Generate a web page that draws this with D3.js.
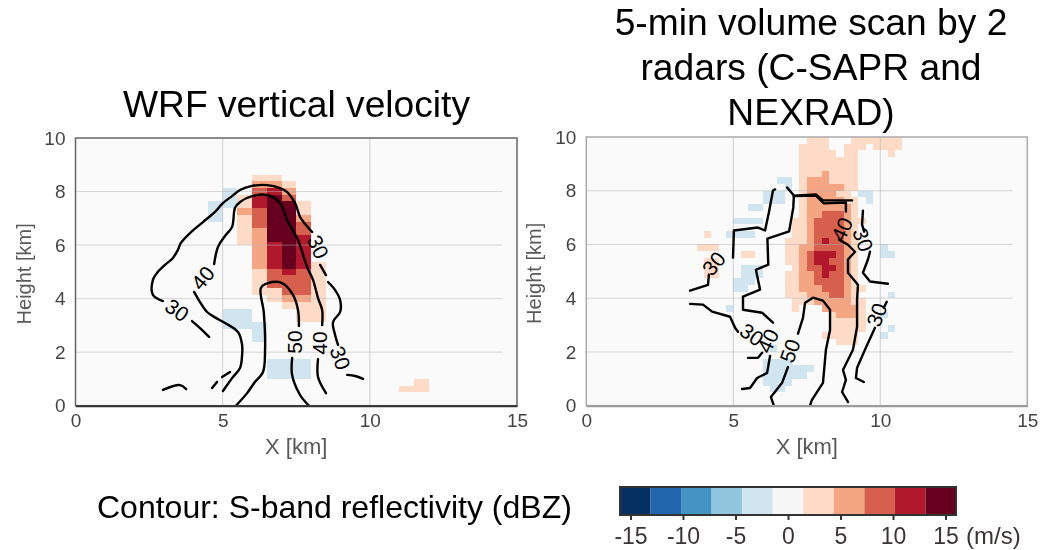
<!DOCTYPE html>
<html>
<head>
<meta charset="utf-8">
<script src="https://cdn.jsdelivr.net/npm/d3@7"></script>
<style>
    html, body { margin: 0; padding: 0; background: #fff; }
    svg { display: block; filter: blur(0.35px); }
    text { font-family: "Liberation Sans", Arial, sans-serif; }
</style>
</head>
<body>
<div id="chart"></div>
<script>
// colour bar
var barColors = ["#053061", "#2166ac", "#4393c3", "#92c5de", "#d1e5f0", "#f7f7f7", "#fddbc7", "#f4a582", "#d6604d", "#b2182b", "#67001f"];
var barTicks = [-15, -10, -5, 0, 5, 10, 15];

var xTicks = [0, 5, 10, 15];
var yTicks = [0, 2, 4, 6, 8, 10];

// vertical velocity cells [x0, x1, y0, y1, m/s]
var wrfCells = [
    [4.5, 5, 6.88, 7.63, -3], [5, 5.5, 7.38, 8.13, -3],
    [5, 6, 2.88, 3.62, -3], [6, 6.5, 2.37, 3.12, -3], [6.5, 8, 1.0, 1.75, -3],
    [11, 12, 0.5, 0.75, 3], [11.5, 12, 0.75, 1.0, 3],
    [5.5, 6, 7.38, 7.88, 3], [5.5, 6, 7.13, 7.38, 6], [5.5, 6, 6.0, 7.13, 3],
    [6, 6.5, 8.38, 8.63, 3], [6, 6.5, 8.13, 8.38, 6], [6, 6.5, 7.88, 8.13, 9], [6, 6.5, 7.38, 7.88, 12],
    [6, 6.5, 6.62, 7.38, 9], [6, 6.5, 5.12, 6.62, 6], [6, 6.5, 4.12, 5.12, 3],
    [6.5, 7, 8.38, 8.63, 3], [6.5, 7, 8.13, 8.38, 6], [6.5, 7, 7.88, 8.13, 12], [6.5, 7, 6.12, 7.88, 15],
    [6.5, 7, 5.12, 6.12, 12], [6.5, 7, 4.38, 5.12, 9], [6.5, 7, 3.87, 4.38, 3],
    [7, 7.5, 8.13, 8.38, 3], [7, 7.5, 7.88, 8.13, 6], [7, 7.5, 7.63, 7.88, 9], [7, 7.5, 5.12, 7.63, 15],
    [7, 7.5, 4.88, 5.12, 12], [7, 7.5, 4.12, 4.88, 9], [7, 7.5, 3.87, 4.12, 6], [7, 7.5, 3.62, 3.87, 3],
    [7.5, 8, 7.13, 7.63, 3], [7.5, 8, 6.88, 7.13, 6], [7.5, 8, 6.37, 6.88, 9], [7.5, 8, 5.12, 6.37, 12],
    [7.5, 8, 4.12, 5.12, 9], [7.5, 8, 3.87, 4.12, 6], [7.5, 8, 3.12, 3.87, 3],
    [8, 8.5, 3.12, 5.37, 3]
];

var radarCells = [
    // downdraft patches
    [6.5, 7, 8.25, 8.5, -3], [6.75, 7, 8, 8.25, -3], [6, 6.75, 7.5, 8, -3], [5.5, 6, 7.25, 7.5, -3],
    [5, 6, 6.75, 7, -3], [4.75, 5.75, 6.25, 6.5, -3],
    [9.25, 9.75, 7.75, 8, -3], [9.5, 9.75, 7.5, 7.75, -3],
    [10, 10.25, 5.75, 6, -3], [10, 10.5, 5.5, 5.75, -3],
    [5.25, 6, 4.75, 5.25, -3], [5, 5.75, 4.5, 4.75, -3], [5, 5.5, 4.25, 4.5, -3], [4.75, 5, 3.5, 3.75, -3],
    [10.25, 10.5, 4, 4.25, -3], [10, 10.25, 3.25, 3.5, -3], [10.25, 10.5, 2.75, 3, -3], [10, 10.25, 2.5, 2.75, -3],
    [6.25, 6.5, 2, 2.25, -3], [6, 7, 1.5, 1.75, -3], [6, 7.75, 1.25, 1.5, -3], [6, 7.5, 1, 1.25, -3],
    [6, 7, 0.75, 1, -3], [6.25, 6.75, 0.5, 0.75, -3],
    // weak updraft
    [4, 4.25, 6.25, 6.5, 3], [3.75, 4.5, 5.75, 6, 3], [5.25, 5.75, 5.5, 5.75, 3], [4, 4.5, 4.75, 5.5, 3],
    [7.5, 8.25, 9.75, 10, 3], [9, 10.75, 9.75, 10, 3],
    [7.25, 8.25, 9.5, 9.75, 3], [8.75, 9.5, 9.5, 9.75, 3], [9.75, 10.75, 9.5, 9.75, 3],
    [7.25, 8.5, 9.25, 9.5, 3], [8.75, 9.25, 9.25, 9.5, 3], [10.25, 10.5, 9.25, 9.5, 3],
    [7.25, 9.25, 8, 9.25, 3], [7.25, 9, 7.75, 8, 3], [7.25, 9.25, 7, 7.75, 3],
    [7, 9.25, 6.25, 7, 3], [9.25, 9.5, 6.75, 7, 3], [6.75, 9.25, 5.25, 6.25, 3], [7, 9.25, 5, 5.25, 3],
    [6.75, 9.25, 4.5, 5, 3], [6.75, 9.5, 4.25, 4.5, 3], [6.75, 9.25, 4, 4.25, 3],
    [7, 8, 3.75, 4, 3], [8, 9.5, 3.5, 4, 3], [7, 7.25, 3.5, 3.75, 3],
    [8.25, 9.5, 2.75, 3.5, 3], [8, 9.25, 2.5, 2.75, 3], [8.5, 9.25, 2.25, 2.5, 3],
    // moderate
    [8, 8.25, 8.5, 8.75, 6], [7.5, 8.25, 8.25, 8.5, 6], [7.5, 8.75, 8, 8.25, 6], [7.5, 8.5, 7.75, 8, 6],
    [7.5, 8.75, 7.5, 7.75, 6], [7.5, 9, 6, 7.5, 6], [7.25, 9, 4.25, 6, 6], [7.5, 9, 4, 4.25, 6],
    [7.75, 9, 3.75, 4, 6], [8, 9.25, 3.5, 3.75, 6], [8.5, 9.25, 3.25, 3.5, 6],
    // strong
    [8, 8.75, 7, 7.25, 9], [7.75, 8.75, 5.75, 7, 9], [7.5, 8.75, 5, 5.75, 9], [7.75, 8.75, 4.5, 5, 9],
    [8, 8.75, 4.25, 4.5, 9], [8.25, 8.75, 4, 4.25, 9],
    // core
    [8, 8.25, 6, 6.25, 12], [7.75, 8.5, 5.5, 5.75, 12], [7.75, 8.25, 5.25, 5.5, 12], [8, 8.5, 5, 5.25, 12], [8, 8.25, 4.75, 5, 12]
];

// S-band reflectivity contours, each a broken line of [x, y] in km
var wrfContours = [
    [[2.97, 3.91], [2.63, 4.14], [2.63, 4.70], [2.77, 4.96], [3.04, 5.26], [3.31, 5.52], [3.48, 5.82], [3.58, 6.08], [3.89, 6.45], [4.33, 6.86], [4.74, 7.24], [5.01, 7.57], [5.32, 7.83], [5.59, 8.06], [6.00, 8.21], [6.51, 8.24], [6.95, 8.13], [7.19, 7.98], [7.46, 7.57], [7.63, 7.05], [7.80, 6.79], [8.04, 6.49]],
    [[8.31, 5.26], [8.51, 4.88]],
    [[8.58, 4.62], [8.82, 4.32], [8.99, 3.95], [8.99, 3.50], [8.75, 3.13], [8.82, 2.64], [8.92, 2.27]],
    [[9.23, 1.15], [9.50, 1.11], [9.77, 1.00]],
    [[3.96, 3.16], [4.23, 2.90], [4.54, 2.57]],
    [[2.97, 0.59], [3.55, 0.77], [3.76, 0.62]],
    [[4.64, 0.66], [4.81, 0.89]],
    [[4.98, 1.07], [5.25, 1.26]],
    [[4.71, 5.29], [4.84, 5.93], [5.08, 6.34], [5.32, 6.68], [5.42, 7.39], [5.59, 7.61], [6.00, 7.83], [6.51, 7.87], [6.95, 7.57], [7.19, 6.94], [7.56, 6.19], [7.87, 5.18], [8.07, 4.70], [8.24, 4.02], [8.38, 3.57], [8.38, 3.01]],
    [[8.24, 1.74], [8.24, 1.07], [8.51, 0.47]],
    [[4.03, 4.25], [4.23, 3.87], [4.47, 3.50], [4.77, 3.28], [5.08, 3.09], [5.52, 2.75], [5.66, 2.27], [5.66, 1.89], [5.59, 1.41], [5.32, 1.03], [5.01, 0.55]],
    [[5.45, 0], [5.83, 0.47], [6.07, 0.85], [6.37, 1.26], [6.44, 2.08], [6.40, 3.46], [6.30, 4.40], [6.54, 4.58], [7.02, 4.58], [7.39, 4.14], [7.56, 3.57], [7.59, 2.98]],
    [[7.36, 1.78], [7.36, 1.15], [7.63, 0.40], [7.93, 0]]
];

var radarContours = [
    [[4.99, 5.51], [5.02, 6.52], [5.84, 6.63], [6.08, 6.52], [6.21, 7.19], [6.35, 8.01], [6.42, 8.05]],
    [[6.83, 8.12], [7.06, 7.82], [7.04, 7.37], [6.96, 6.87], [6.90, 6.49], [6.16, 6.22], [6.19, 5.25], [5.77, 5.06], [5.85, 4.63], [5.91, 4.32], [5.33, 4.06], [5.33, 3.57], [5.98, 3.46], [6.35, 3.09]],
    [[7.06, 7.82], [7.81, 7.86], [8.05, 7.64], [9.04, 7.64]],
    [[7.06, 7.80], [7.81, 7.82], [8.08, 7.53], [8.83, 7.56], [8.83, 7.23]],
    [[8.60, 6.18], [8.90, 5.99], [9.14, 5.73], [8.90, 5.44], [8.90, 4.95], [9.24, 4.50], [9.21, 3.94], [9.21, 2.94], [9.07, 2.08], [8.73, 1.33], [8.83, 0.96], [8.70, 0.51], [8.90, 0.14]],
    [[6.25, 1.85], [6.15, 1.22], [5.81, 1.03], [5.57, 0.66], [5.30, 0.62]],
    [[7.20, 2.68], [7.37, 3.27], [7.44, 3.83], [7.71, 4.02], [8.05, 3.91], [8.29, 3.57], [8.29, 2.82], [8.15, 2.08], [8.05, 0.85], [7.67, 0.21], [7.61, 0]],
    [[6.86, 1.44], [6.66, 0.85], [6.28, 0.32], [6.38, 0]],
    [[4.17, 4.88], [4.14, 4.50], [3.53, 4.28]],
    [[3.53, 3.79], [3.97, 3.76], [4.28, 3.50], [4.89, 3.31], [5.06, 2.90], [5.16, 2.75]],
    [[5.50, 1.78], [5.84, 1.78], [5.98, 1.97]],
    [[9.41, 7.26], [9.38, 6.74], [9.45, 6.48]],
    [[9.65, 5.73], [9.58, 5.44], [9.41, 4.95], [9.65, 4.62], [10.26, 4.54]],
    [[10.22, 3.87], [10.12, 3.65]],
    [[9.82, 2.90], [9.55, 2.26], [9.21, 1.41], [9.17, 1.03], [9.44, 0.88]]
];

// contour labels [x, y, dBZ, rotation]
var wrfLabels = [[4.33, 4.77, "40", -50], [3.45, 3.57, "30", 35], [8.24, 5.93, "30", 65], [7.46, 2.38, "50", -90], [8.31, 2.34, "40", -90], [8.99, 1.78, "30", 70]];
var radarLabels = [[4.34, 5.29, "30", -50], [5.63, 2.64, "30", 35], [6.18, 2.41, "40", -65], [6.93, 2.04, "50", -70], [8.70, 6.56, "40", -65], [9.41, 6.18, "30", 70], [9.88, 3.38, "30", -70]];

var svg = d3.select("#chart").append("svg")
    .attr("width", 1047)
    .attr("height", 550);

var colorScale = d3.scaleQuantize()
    .domain([-16, 16])
    .range(barColors);

function drawPanel(left, right, top, bottom, cells, contours, labels, smooth, frame) {
    var xScale = d3.scaleLinear().domain([0, 15]).range([left, right]);
    var yScale = d3.scaleLinear().domain([0, 10]).range([bottom, top]);

    svg.append("rect")
        .attr("x", left)
        .attr("y", top)
        .attr("width", right - left)
        .attr("height", bottom - top)
        .attr("fill", "#fafafa");

    svg.append("g").selectAll("rect")
        .data(cells)
        .enter().append("rect")
        .attr("x", function(d) { return xScale(d[0]); })
        .attr("width", function(d) { return xScale(d[1]) - xScale(d[0]); })
        .attr("y", function(d) { return yScale(d[3]); })
        .attr("height", function(d) { return yScale(d[2]) - yScale(d[3]); })
        .attr("fill", function(d) { return colorScale(d[4]); })
        .attr("shape-rendering", "crispEdges");

    //Grid
    svg.append("g").selectAll("line")
        .data([5, 10])
        .enter().append("line")
        .attr("x1", xScale).attr("x2", xScale)
        .attr("y1", top).attr("y2", bottom)
        .attr("stroke", "#b4b4b4").attr("stroke-opacity", 0.6);

    svg.append("g").selectAll("line")
        .data([2, 4, 6, 8])
        .enter().append("line")
        .attr("x1", left).attr("x2", xScale(14.5))
        .attr("y1", yScale).attr("y2", yScale)
        .attr("stroke", "#b4b4b4").attr("stroke-opacity", 0.5);

    //Contours
    var line = d3.line()
        .x(function(d) { return xScale(d[0]); })
        .y(function(d) { return yScale(d[1]); })
        .curve(smooth ? d3.curveCatmullRom : d3.curveLinear);

    svg.append("g").selectAll("path")
        .data(contours)
        .enter().append("path")
        .attr("d", line)
        .attr("fill", "none")
        .attr("stroke", "#000")
        .attr("stroke-width", 2.4)
        .attr("stroke-linejoin", "round")
        .attr("stroke-linecap", "round");

    svg.append("g").selectAll("text")
        .data(labels)
        .enter().append("text")
        .attr("transform", function(d) {
            return "translate(" + xScale(d[0]) + "," + yScale(d[1]) + ") rotate(" + d[3] + ")";
        })
        .attr("text-anchor", "middle")
        .attr("dy", "0.35em")
        .attr("font-size", 21)
        .attr("fill", "#000")
        .text(function(d) { return d[2]; });

    // frame
    svg.append("rect")
        .attr("x", left)
        .attr("y", top)
        .attr("width", right - left)
        .attr("height", bottom - top)
        .attr("fill", "none")
        .attr("stroke", frame)
        .attr("stroke-width", 1.5);

    //Axes
    var xAxis = svg.append("g")
        .attr("transform", "translate(0," + bottom + ")")
        .call(d3.axisBottom(xScale).tickValues(xTicks).tickSize(0).tickPadding(8));
    xAxis.select(".domain").attr("stroke", frame === "#666" ? "#333" : "#999").attr("stroke-width", 2);
    xAxis.selectAll("text").attr("font-size", 19).attr("font-family", null).attr("fill", "#444");

    var yAxis = svg.append("g")
        .attr("transform", "translate(" + left + ",0)")
        .call(d3.axisLeft(yScale).tickValues(yTicks).tickSize(0).tickPadding(10));
    yAxis.select(".domain").remove();
    yAxis.selectAll("text").attr("font-size", 19).attr("font-family", null).attr("fill", "#444");

    svg.append("text")
        .attr("x", (left + right) / 2)
        .attr("y", bottom + 48)
        .attr("text-anchor", "middle")
        .attr("font-size", 22)
        .attr("fill", "#595959")
        .text("X [km]");

    svg.append("text")
        .attr("transform", "translate(" + (left - 45) + "," + ((top + bottom) / 2 + 2) + ") rotate(-90)")
        .attr("text-anchor", "middle")
        .attr("font-size", 20)
        .attr("fill", "#595959")
        .text("Height [km]");
}

drawPanel(75.5, 517, 138, 405.7, wrfCells, wrfContours, wrfLabels, true, "#666");
drawPanel(586.3, 1027.3, 137, 405.7, radarCells, radarContours, radarLabels, false, "#aaa");

//Titles
svg.append("text")
    .attr("x", 296.5).attr("y", 117)
    .attr("text-anchor", "middle")
    .attr("font-size", 37.2)
    .text("WRF vertical velocity");

svg.selectAll(".title2")
    .data(["5-min volume scan by 2", "radars (C-SAPR and", "NEXRAD)"])
    .enter().append("text")
    .attr("class", "title2")
    .attr("x", 811)
    .attr("y", function(d, i) { return 35 + i * 45; })
    .attr("text-anchor", "middle")
    .attr("font-size", 37.2)
    .text(function(d) { return d; });

svg.append("text")
    .attr("x", 97).attr("y", 518)
    .attr("font-size", 32)
    .text("Contour: S-band reflectivity (dBZ)");

// Colour bar
var barScale = d3.scaleLinear().domain([-16, 16]).range([620, 956]);

svg.append("g").selectAll("rect")
    .data(colorScale.range())
    .enter().append("rect")
    .attr("x", function(d) { return barScale(colorScale.invertExtent(d)[0]); })
    .attr("width", function(d) {
        var e = colorScale.invertExtent(d);
        return barScale(e[1]) - barScale(e[0]);
    })
    .attr("y", 487)
    .attr("height", 28)
    .attr("fill", function(d) { return d; });

svg.append("rect")
    .attr("x", 620).attr("y", 487)
    .attr("width", 336).attr("height", 28)
    .attr("fill", "none")
    .attr("stroke", "#333")
    .attr("stroke-width", 2);

var barAxis = svg.append("g")
    .attr("transform", "translate(0,515)")
    .call(d3.axisBottom(barScale).tickValues(barTicks).tickFormat(function(d) { return String(d); }).tickSize(5).tickPadding(8));
barAxis.select(".domain").remove();
barAxis.selectAll("line").attr("stroke", "#333").attr("stroke-width", 2);
barAxis.selectAll("text").attr("font-size", 23).attr("font-family", null).attr("fill", "#3a3535");

svg.append("text")
    .attr("x", 966).attr("y", 544)
    .attr("font-size", 24)
    .attr("fill", "#3a3535")
    .text("(m/s)");
</script>
</body>
</html>
